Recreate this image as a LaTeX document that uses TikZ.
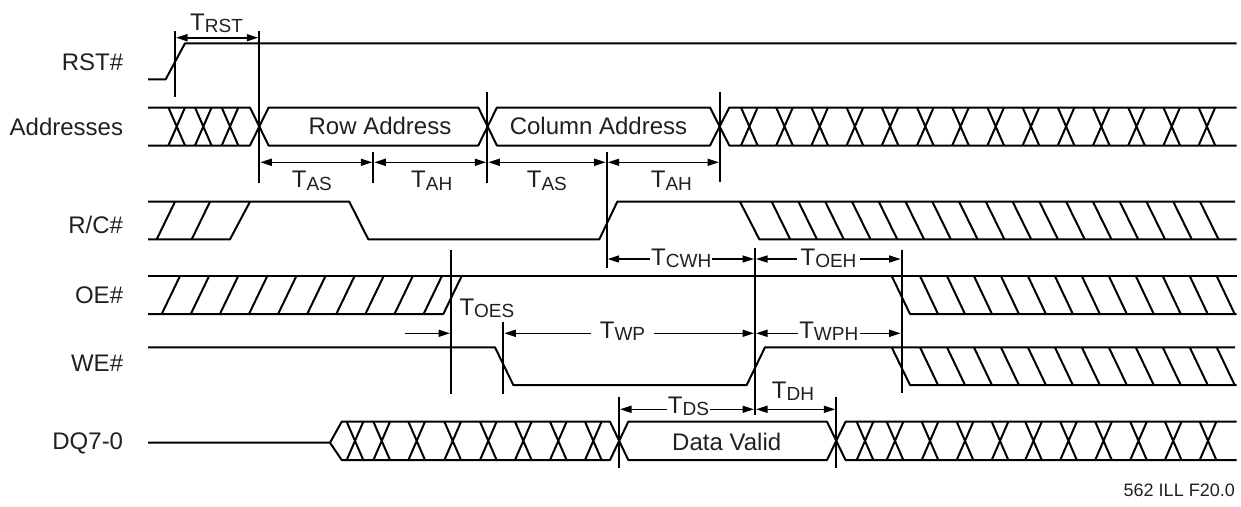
\documentclass[tikz,border=0pt]{standalone}
\usepackage{fontspec}
\setmainfont{Liberation Sans}
\usetikzlibrary{arrows.meta}
\definecolor{ink}{HTML}{231F20}
\newcommand{\tlab}[1]{T\raisebox{-2.5pt}{\fontsize{19}{19}\selectfont #1}}
\begin{document}
\begin{tikzpicture}[x=1pt,y=-1pt,
  wave/.style={line width=2pt, line join=round},
  vmark/.style={line width=2pt},
  dimboth/.style={line width=1.6pt, shorten <=1pt, shorten >=1pt,
    {Triangle[length=11.5pt,width=7pt]}-{Triangle[length=11.5pt,width=7pt]}},
  dimone/.style={line width=1.6pt, shorten >=1pt, -{Triangle[length=11.5pt,width=7pt]}},
  sig/.style={anchor=base east, inner sep=0pt, text=ink, font=\fontsize{24}{24}\selectfont},
  tfree/.style={anchor=base west, inner sep=0pt, text=ink, font=\fontsize{24}{24}\selectfont},
  tgap/.style={anchor=base, inner ysep=1pt, fill=white, text=ink, font=\fontsize{24}{24}\selectfont},
  bus/.style={anchor=base, inner sep=0pt, text=ink, font=\fontsize{24}{24}\selectfont}
]
\useasboundingbox (0,0) rectangle (1241,506);

% ---------- signal names ----------
\node[sig] (nRST) at (123.3,70.7) {RST\#};
\node[sig] (nADR) at (123.3,135) {Addresses};
\node[sig] (nRC)  at (123.3,233.3) {R/C\#};
\node[sig] (nOE)  at (123.3,303.3) {OE\#};
\node[sig] (nWE)  at (123.3,371.7) {WE\#};
\node[sig] (nDQ)  at (123.3,449.3) {DQ7-0};

% ---------- RST# ----------
\draw[wave] (148,79.3) -- (165.7,79.3) -- (185,43.3) -- (1236.7,43.3);

% ---------- Addresses ----------
\draw[wave] (148,107.5) -- (250,107.5) -- (268.6,145.5) -- (478.3,145.5) -- (496.9,107.5)
  -- (710,107.5) -- (729.3,145.5) -- (1236.7,145.5);
\draw[wave] (148,145.5) -- (250,145.5) -- (268.6,107.5) -- (478.3,107.5) -- (496.9,145.5)
  -- (710,145.5) -- (729.3,107.5) -- (1236.7,107.5);
\foreach \c in {176.7,203.3,230}
  \draw[wave] ({\c-8.3},107.5) -- ({\c+8.3},145.5) ({\c+8.3},107.5) -- ({\c-8.3},145.5);
\foreach \k in {0,...,13}{
  \pgfmathsetmacro\c{749.3+35.2*\k}
  \draw[wave] ({\c-8.3},107.5) -- ({\c+8.3},145.5) ({\c+8.3},107.5) -- ({\c-8.3},145.5);
}
\node[bus] (rowa) at (380,134.3) {Row Address};
\node[bus] (cola) at (598.5,134.3) {Column Address};

% ---------- R/C# ----------
\draw[wave] (148,201.7) -- (349.3,201.7) -- (368.3,239.3) -- (599.3,239.3) -- (617.3,201.7) -- (1235,201.7);
\draw[wave] (148,239.3) -- (230,239.3) -- (250,201.7);
\draw[wave] (156.7,239.3) -- (175,201.7) (191.7,239.3) -- (210,201.7);
\draw[wave] (740,201.7) -- (759.3,239.3) -- (1236.7,239.3);
\foreach \k in {0,...,16}{
  \pgfmathsetmacro\c{771.7+26.77*\k}
  \draw[wave] (\c,201.7) -- ({\c+18.5},239.3);
}

% ---------- OE# ----------
\draw[wave] (148,276) -- (1236.7,276);
\draw[wave] (148,314) -- (443.3,314) -- (461.7,276);
\foreach \k in {0,...,9}{
  \pgfmathsetmacro\c{161.7+29.1*\k}
  \draw[wave] (\c,314) -- ({\c+18.3},276);
}
\draw[wave] (891.7,276) -- (910,314) -- (1236.7,314);
\foreach \k in {0,...,11}{
  \pgfmathsetmacro\c{920+26.97*\k}
  \draw[wave] (\c,276) -- ({\c+18},314);
}

% ---------- WE# ----------
\draw[wave] (148,347.3) -- (495,347.3) -- (513.3,385) -- (746.7,385) -- (765,347.3) -- (1235,347.3);
\draw[wave] (891.7,347.3) -- (910,385) -- (1236.7,385);
\foreach \k in {0,...,11}{
  \pgfmathsetmacro\c{920+26.97*\k}
  \draw[wave] (\c,347.3) -- ({\c+18},385);
}

% ---------- DQ7-0 ----------
\draw[wave] (148,442.7) -- (330,442.7) -- (341.7,421.7) -- (610,421.7) -- (628.3,460)
  -- (827,460) -- (845.5,421.7) -- (1236.7,421.7);
\draw[wave] (330,442.7) -- (341.7,460) -- (610,460) -- (628.3,421.7)
  -- (827,421.7) -- (845.5,460) -- (1236.7,460);
\foreach \c in {355,381.7,416.7,452.7,488.3,523.3,558.3,593.3,865,895,930,965,1000,1033.5,1068.5,1103.5,1138.5,1173.2,1208}
  \draw[wave] ({\c-8.3},421.7) -- ({\c+8.3},460) ({\c+8.3},421.7) -- ({\c-8.3},460);
\node[bus] (dval) at (726.7,450) {Data Valid};

% ---------- timing marker lines ----------
\coordinate (m1t) at (175,31);     \coordinate (m1b) at (175,96.7);
\coordinate (m2t) at (259.3,31);   \coordinate (m2b) at (259.3,183);
\coordinate (m3t) at (373.3,151.7);\coordinate (m3b) at (373.3,183.3);
\coordinate (m4t) at (487.3,92.3); \coordinate (m4b) at (487.3,183.3);
\coordinate (m5t) at (606.7,151.7);\coordinate (m5b) at (606.7,268.3);
\coordinate (m6t) at (720,92.3);   \coordinate (m6b) at (720,181.7);
\coordinate (m7t) at (755,248);    \coordinate (m7b) at (755,415);
\coordinate (m8t) at (901.7,250);  \coordinate (m8b) at (901.7,393.3);
\coordinate (m9t) at (451,250);    \coordinate (m9b) at (451,394);
\coordinate (m10t) at (503.3,321.7);\coordinate (m10b) at (503.3,394);
\coordinate (m11t) at (619,396.7); \coordinate (m11b) at (619,468.3);
\coordinate (m12t) at (836.3,396.7);\coordinate (m12b) at (836.3,468.3);
\foreach \m in {1,...,12} \draw[vmark] (m\m t) -- (m\m b);

% ---------- dimension arrows ----------
\coordinate (toesfrom) at (405,333.3);
\draw[dimboth] (m1t |- 0,37.7) -- (m2t |- 0,37.7);
\draw[dimboth] (m2t |- 0,162.3) -- (m3t |- 0,162.3);
\draw[dimboth] (m3t |- 0,162.3) -- (m4t |- 0,162.3);
\draw[dimboth] (m4t |- 0,162.3) -- (m5t |- 0,162.3);
\draw[dimboth] (m5t |- 0,162.3) -- (m6t |- 0,162.3);
\draw[dimboth] (m5t |- 0,259) -- (m7t |- 0,259);
\draw[dimboth] (m7t |- 0,259) -- (m8t |- 0,259);
\draw[dimone] (toesfrom) -- (m9t |- toesfrom);
\draw[dimboth] (m10t |- toesfrom) -- (m7t |- toesfrom);
\draw[dimboth] (m7t |- toesfrom) -- (m8t |- toesfrom);
\draw[dimboth] (m11t |- 0,409.3) -- (m7t |- 0,409.3);
\draw[dimboth] (m7t |- 0,409.3) -- (m12t |- 0,409.3);

% ---------- timing labels ----------
\node[tfree] (lrst) at (190,30) {\tlab{RST}};
\node[tfree] (las1) at (291.7,187.5) {\tlab{AS}};
\node[tfree] (lah1) at (411,187.5) {\tlab{AH}};
\node[tfree] (las2) at (526.7,187.5) {\tlab{AS}};
\node[tfree] (lah2) at (650.7,187.5) {\tlab{AH}};
\node[tgap, inner xsep=1pt] (lcwh) at (681.2,265) {\tlab{CWH}};
\node[tgap, inner xsep=4pt] (loeh) at (828.5,265) {\tlab{OEH}};
\node[tfree] (loes) at (459.3,315) {\tlab{OES}};
\node[tgap, inner xsep=8.5pt] (lwp) at (622.5,338) {\tlab{WP}};
\node[tgap, inner xsep=1.5pt] (lwph) at (828.8,338) {\tlab{WPH}};
\node[tgap, inner xsep=1.2pt] (lds) at (688.5,413.3) {\tlab{DS}};
\node[tfree] (ldh) at (771.7,398) {\tlab{DH}};

% ---------- figure id ----------
\node[anchor=base east, inner sep=0pt, text=ink, font=\fontsize{18}{18}\selectfont] (fig) at (1235,496.7) {562 ILL F20.0};
\end{tikzpicture}
\end{document}
